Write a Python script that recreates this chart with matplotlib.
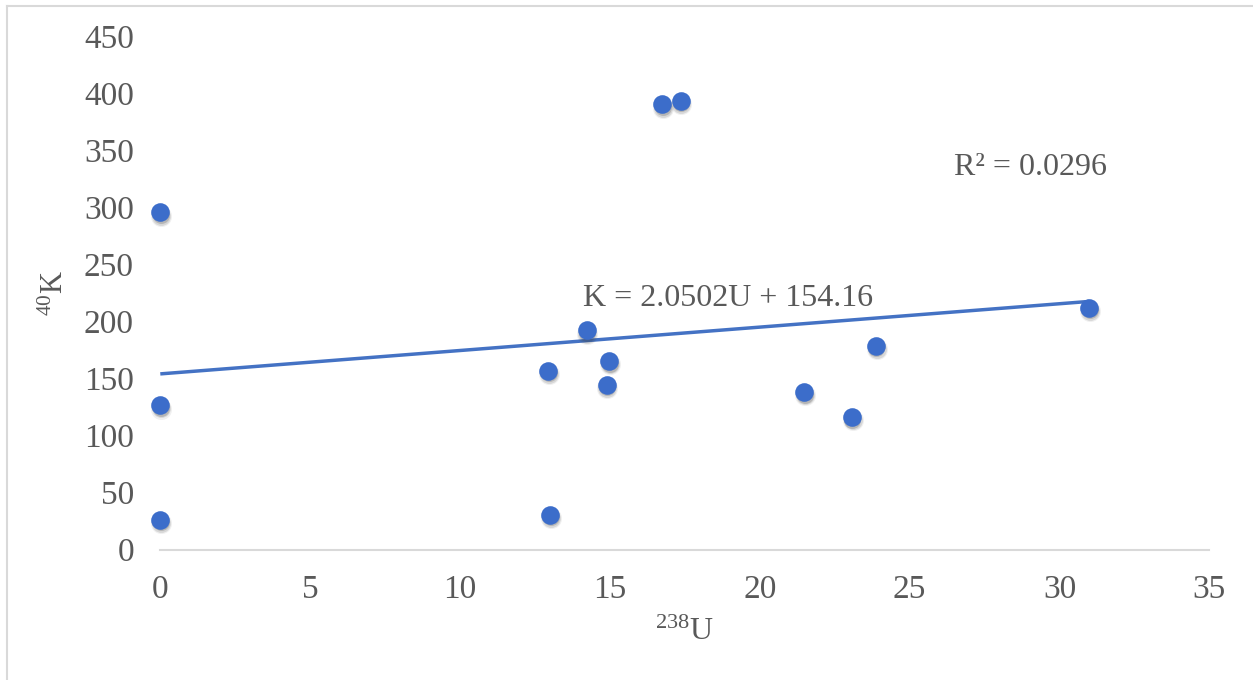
import matplotlib
matplotlib.use("Agg")
import matplotlib.pyplot as plt
import matplotlib.transforms as mtransforms
from matplotlib.lines import Line2D
import numpy as np

# Sample activities: 238U (x) against 40K (y)
u238 = [0.0, 0.0, 0.0, 12.95, 13.01, 14.23, 14.98, 14.90, 16.75, 17.37,
        21.48, 23.08, 23.88, 31.0]
k40 = [295.9, 126.9, 26.3, 157.0, 30.7, 192.4, 165.7, 144.7, 390.6, 393.7,
       138.5, 116.6, 178.9, 212.2]

# Linear trend line reported for the data
slope = 2.0502
intercept = 154.16
r_squared = 0.0296

x_ticks = [0, 5, 10, 15, 20, 25, 30, 35]
y_ticks = [0, 50, 100, 150, 200, 250, 300, 350, 400, 450]

plt.rcParams["font.family"] = ["Liberation Serif", "DejaVu Serif"]
plt.rcParams["mathtext.fontset"] = "custom"
plt.rcParams["mathtext.rm"] = "Liberation Serif"

text_color = "#595959"
blue = "#4472C4"
marker_blue = "#3C6DCA"

W, H = 1253, 680
fig = plt.figure(figsize=(W / 100, H / 100), dpi=100)
ax = fig.add_axes([160.3 / W, (H - 549.7) / H, (1209.3 - 160.3) / W, (549.7 - 36.5) / H])

ax.set_xlim(0, 35)
ax.set_ylim(0, 450)
ax.set_xticks(x_ticks)
ax.set_yticks(y_ticks)
ax.tick_params(axis="both", length=0, labelsize=24, colors=text_color)
ax.tick_params(axis="y", pad=19)
ax.tick_params(axis="x", pad=18)

for side in ("left", "right", "top"):
    ax.spines[side].set_visible(False)
ax.spines["bottom"].set_color("#D9D9D9")
ax.spines["bottom"].set_linewidth(1.5)
ax.patch.set_alpha(0)

# trend line over the range of the data
xs = np.array([min(u238), max(u238)])
ax.plot(xs, slope * xs + intercept, color=blue, lw=2.5, zorder=3, solid_capstyle="butt")

# soft drop shadows under the markers
for dx, dy, a, s in [(0.4, -2.6, 0.08, 230), (0.4, -2.4, 0.14, 185), (0.3, -2.0, 0.22, 150)]:
    tr = mtransforms.offset_copy(ax.transData, fig=fig, x=dx, y=dy, units="points")
    ax.scatter(u238, k40, s=s, color="#404040", alpha=a, linewidths=0,
               transform=tr, zorder=4, clip_on=False)
ax.scatter(u238, k40, s=180, color=marker_blue, linewidths=0, zorder=5, clip_on=False)

ax.text(18.94, 220.7, "K = 2.0502U + 154.16", fontsize=23, color=text_color,
        ha="center", va="center", zorder=6)
ax.text(29.05, 335, f"R² = {r_squared}", fontsize=23, color=text_color,
        ha="center", va="center", zorder=6)

ax.set_xlabel(r"$\mathregular{^{238}U}$", fontsize=23, color=text_color)
ax.set_ylabel(r"$\mathregular{^{40}K}$", fontsize=22, color=text_color)
ax.xaxis.set_label_coords((684 - 160.3) / 1049, (549.7 - 632) / 513.2)
ax.yaxis.set_label_coords((55 - 160.3) / 1049, (549.7 - 293) / 513.2)
ax.xaxis.label.set_va("center")
ax.yaxis.label.set_va("center")

# chart area frame
fig.add_artist(Line2D([7 / W, 7 / W], [0, 1 - 6 / H], transform=fig.transFigure,
                      color="#D9D9D9", lw=1.5))
fig.add_artist(Line2D([7 / W, 1], [1 - 6 / H, 1 - 6 / H], transform=fig.transFigure,
                      color="#D9D9D9", lw=1.5))

fig.savefig("out.png", dpi=100)
